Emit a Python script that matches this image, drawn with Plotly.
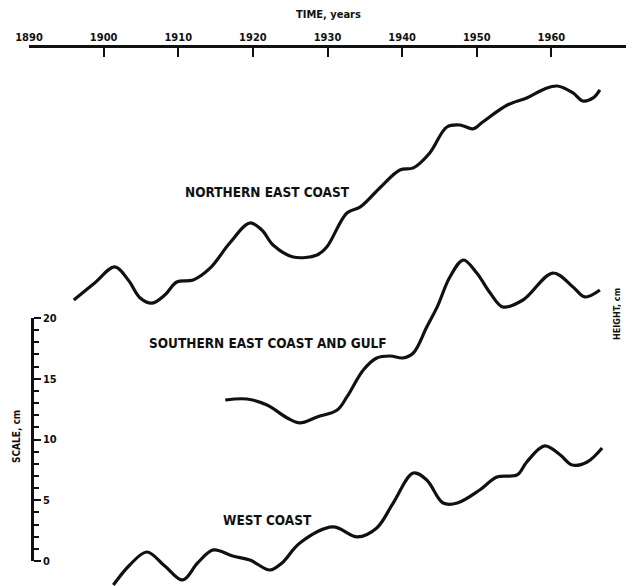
import plotly.graph_objects as go

# ---- data (heights in cm on the common display scale) ----
ne_years = [1896.0, 1898.8, 1901.5, 1903.3, 1904.9, 1906.5, 1908.2, 1909.8, 1912.0, 1914.3,
            1916.9, 1919.6, 1921.2, 1922.7, 1925.4, 1928.6, 1929.9, 1932.6, 1934.4, 1937.0,
            1939.7, 1941.5, 1943.7, 1946.0, 1947.8, 1949.5, 1950.8, 1954.1, 1956.7, 1959.1,
            1960.8, 1962.9, 1964.2, 1965.6, 1966.5]
ne_height = [21.48, 22.88, 24.20, 23.13, 21.65, 21.23, 21.89, 22.96, 23.13, 24.12,
             26.17, 27.82, 27.24, 26.01, 25.02, 25.19, 25.84, 28.64, 29.14, 30.70,
             32.18, 32.35, 33.58, 35.72, 35.88, 35.56, 36.13, 37.53, 38.11, 38.85,
             39.09, 38.52, 37.86, 38.11, 38.77]

se_years = [1916.3, 1919.2, 1921.9, 1924.6, 1926.3, 1928.6, 1931.3, 1932.6, 1934.8, 1936.6,
            1938.4, 1940.1, 1941.5, 1943.3, 1944.7, 1946.4, 1948.2, 1950.0, 1951.8, 1953.5,
            1956.2, 1960.2, 1962.9, 1964.5, 1966.5]
se_height = [13.25, 13.33, 12.84, 11.77, 11.36, 11.85, 12.43, 13.50, 15.72, 16.71,
             16.87, 16.71, 17.12, 19.26, 20.91, 23.37, 24.77, 23.70, 22.06, 20.91,
             21.48, 23.70, 22.55, 21.73, 22.30]

wc_years = [1901.3, 1903.5, 1905.8, 1908.2, 1910.6, 1912.6, 1914.7, 1917.3, 1919.6, 1922.3,
            1923.9, 1926.3, 1930.7, 1934.0, 1936.6, 1938.8, 1941.5, 1943.3, 1945.5, 1947.4,
            1950.4, 1952.7, 1955.4, 1956.7, 1959.1, 1961.2, 1962.8, 1964.8, 1966.8]
wc_height = [-1.98, -0.33, 0.74, -0.41, -1.56, -0.16, 0.91, 0.41, 0.08, -0.74,
             -0.16, 1.48, 2.80, 1.98, 2.72, 4.77, 7.24, 6.67, 4.77, 4.77,
             5.84, 6.91, 7.08, 8.15, 9.47, 8.72, 7.90, 8.15, 9.30]

series_names = ["NORTHERN EAST COAST", "SOUTHERN EAST COAST AND GULF", "WEST COAST"]
label_years = [1922.0, 1922.0, 1922.0]
label_heights = [30.37, 17.94, 3.37]

time_ticks = [1890, 1900, 1910, 1920, 1930, 1940, 1950, 1960, 1970]
scale_ticks = [0, 5, 10, 15, 20]

FONT = "DejaVu Sans Condensed, Liberation Sans Narrow, DejaVu Sans, sans-serif"
INK = "#111111"

fig = go.Figure()
for xs, ys, nm in zip([ne_years, se_years, wc_years], [ne_height, se_height, wc_height], series_names):
    fig.add_trace(go.Scatter(x=xs, y=ys, mode="lines", name=nm,
                             line=dict(color=INK, width=3.2, shape="spline", smoothing=1.0),
                             showlegend=False, hoverinfo="skip"))

# invisible trace to hold the scale-bar subplot
fig.add_trace(go.Scatter(x=[None], y=[None], xaxis="x2", yaxis="y2", showlegend=False,
                         hoverinfo="skip"))

for nm, lx, ly in zip(series_names, label_years, label_heights):
    fig.add_annotation(x=lx, y=ly, text=nm, showarrow=False, xanchor="center", yanchor="middle",
                       font=dict(family=FONT, size=13.5, color=INK, weight="bold"))

fig.add_annotation(xref="paper", yref="paper", x=0.502, y=1.062, text="TIME, years",
                   showarrow=False, xanchor="center", yanchor="middle",
                   font=dict(family=FONT, size=11, color=INK, weight="bold"))
fig.add_annotation(xref="paper", yref="paper", x=-0.020, y=0.277, text="SCALE, cm",
                   textangle=-90, showarrow=False, xanchor="center", yanchor="middle",
                   font=dict(family=FONT, size=10, color=INK, weight="bold"))
fig.add_annotation(xref="paper", yref="paper", x=0.985, y=0.5056, text="HEIGHT, cm",
                   textangle=-90, showarrow=False, xanchor="center", yanchor="middle",
                   font=dict(family=FONT, size=9, color=INK, weight="bold"))

fig.update_layout(
    width=639, height=586,
    margin=dict(l=29, r=13, t=48, b=0),
    paper_bgcolor="white", plot_bgcolor="rgba(0,0,0,0)",
    xaxis=dict(range=[1890, 1970], side="top", tickvals=time_ticks, ticks="inside",
               ticklen=9, tickwidth=2, tickcolor=INK, showline=True, linewidth=3,
               linecolor=INK, showgrid=False, zeroline=False, automargin=False,
               tickfont=dict(family=FONT, size=11, color=INK, weight="bold")),
    yaxis=dict(range=[-2.058, 42.22], visible=False, showgrid=False, zeroline=False,
               automargin=False),
    xaxis2=dict(domain=[0, 1], anchor="y2", range=[0, 1], visible=False, automargin=False),
    yaxis2=dict(domain=[0.0465, 0.4981], anchor="free", position=0.005, side="right",
                range=[0, 20], tickvals=scale_ticks, ticks="outside", ticklen=7,
                tickwidth=2, tickcolor=INK, showline=True, linewidth=2.5, linecolor=INK,
                showgrid=False, zeroline=False, automargin=False,
                minor=dict(dtick=1, ticks="outside", ticklen=5, tickwidth=1.5, tickcolor=INK),
                tickfont=dict(family=FONT, size=11, color=INK, weight="bold")),
)

fig.write_html("out.html", config={"displayModeBar": False},
               post_script="document.body.style.margin='0px';")
